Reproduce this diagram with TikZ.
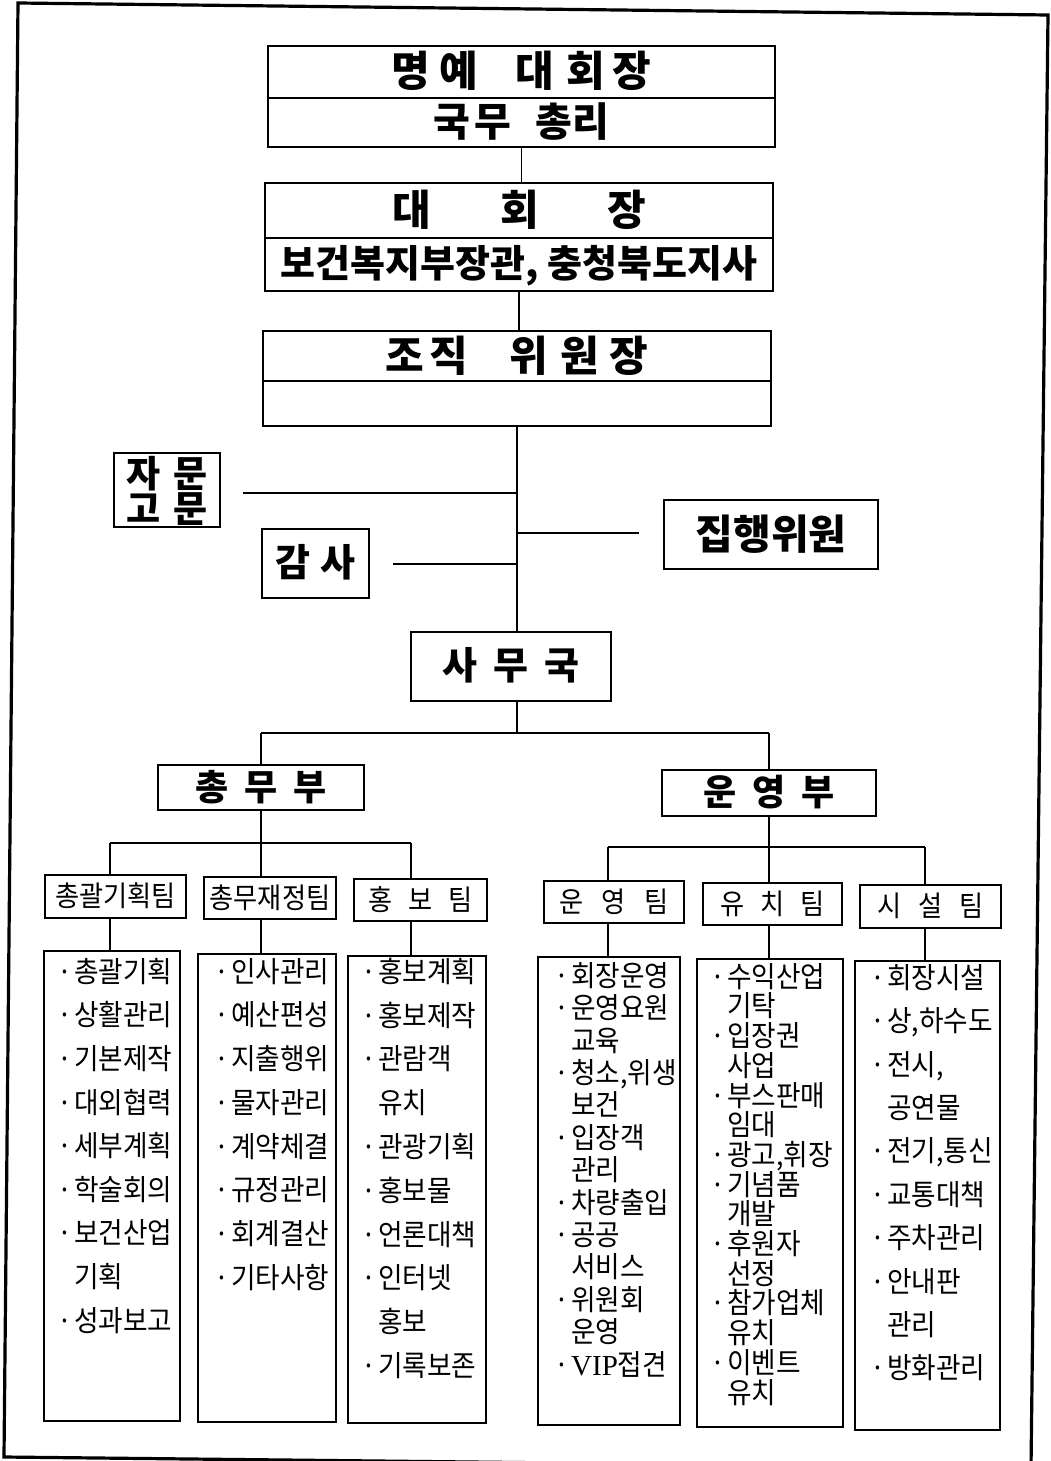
\documentclass[tikz,border=0pt]{standalone}
\usepackage{fontspec}
\setmainfont{Noto Sans CJK KR}
\newfontfamily\itemfont{Noto Sans CJK KR}[FakeStretch=0.92]
\newfontfamily\latinserif{Liberation Serif}
\newcommand\itemdot{\makebox[18pt][c]{·}}
\newcommand\itemind{\hspace*{18pt}}
\begin{document}
\begin{tikzpicture}[x=1pt,y=-1pt,
  box/.style={draw, line width=1.8pt, inner sep=0pt},
  span/.style n args={4}{minimum width={#3-#1}, minimum height={#4-#2}, at={({(#1+#3)/2},{(#2+#4)/2})}},
  conn/.style={line width=1.2pt},
  sz/.style 2 args={font=\fontsize{#1}{#1}\selectfont\bfseries, text height=#2pt, text depth=4pt},
  team/.style={font=\itemfont\fontsize{28.5}{30}\selectfont, text height=23pt, text depth=3pt},
  item/.style={anchor=west, inner sep=0pt, font=\itemfont\fontsize{29}{30}\selectfont, text height=24pt, text depth=3.5pt}]
\useasboundingbox (0,0) rectangle (1050,1461);
% outer frame
\draw[line width=3.2pt] (18,3) -- (1048,15) -- (1031,1468) -- (4,1457) -- cycle;

% top boxes
\node[box, sz={42}{34}, span={268}{46}{775}{98}] (A1) {명\hspace{9pt}예\hspace{38pt}대\hspace{12pt}회\hspace{8pt}장};
\node[box, sz={40}{32}, span={268}{98}{775}{147}] (A2) {국\hspace{4pt}무\hspace{24pt}총\hspace{1pt}리};
\node[box, sz={42}{34}, span={265}{183}{773}{238}] (B1) {대\hspace{70pt}회\hspace{68pt}장};
\node[box, sz={38}{30.5}, span={265}{238}{773}{291}] (B2) {보건복지부장관, 충청북도지사};
\node[box, sz={42}{34}, span={263}{331}{771}{381}] (C1) {조\hspace{5pt}직\hspace{41pt}위\hspace{13pt}원\hspace{10pt}장};
\node[box, span={263}{381}{771}{426}] (C2) {};

% side boxes
\node[box, span={114}{453}{220}{527}] (E) {};
\node[sz={37}{29.5}, inner sep=0pt] (E1) at (167,475) {자\hspace{13pt}문};
\node[sz={37}{29.5}, inner sep=0pt] (E2) at (167,510) {고\hspace{13pt}문};
\node[box, sz={38}{30.5}, span={262}{529}{369}{598}] (F) {감\hspace{11pt}사};
\node[box, sz={41}{33}, span={664}{500}{878}{569}] (G) {집행위원};
\node[box, sz={38}{30.5}, span={411}{632}{611}{701}] (D) {사\hspace{16pt}무\hspace{16pt}국};

% departments
\node[box, sz={36}{29}, span={158}{765}{364}{810}] (H1) {총\hspace{16pt}무\hspace{16pt}부};
\node[box, sz={36}{29}, span={662}{770}{876}{816}] (H2) {운\hspace{16pt}영\hspace{16pt}부};

% teams
\node[box, team, span={45}{875}{186}{918}] (T1) {총괄기획팀};
\node[box, team, span={204}{877}{336}{919}] (T2) {총무재정팀};
\node[box, team, span={354}{879}{487}{921}] (T3) {홍\hspace{16pt}보\hspace{16pt}팀};
\node[box, team, span={544}{881}{684}{923}] (T4) {운\hspace{18pt}영\hspace{18pt}팀};
\node[box, team, span={703}{883}{842}{925}] (T5) {유\hspace{16pt}치\hspace{16pt}팀};
\node[box, team, span={860}{885}{1001}{928}] (T6) {시\hspace{17pt}설\hspace{17pt}팀};

% lists
\node[box, span={44}{951}{180}{1421}] (L1) {};
\node[box, span={198}{954}{336}{1422}] (L2) {};
\node[box, span={348}{956}{486}{1423}] (L3) {};
\node[box, span={538}{957}{680}{1425}] (L4) {};
\node[box, span={697}{959}{843}{1427}] (L5) {};
\node[box, span={855}{961}{1000}{1430}] (L6) {};

% connectors top
\draw[conn] (A2.south) -- (A2.south |- B1.north);
\draw[conn] (B2.south) -- (B2.south |- C1.north);
\draw[conn] (C2.south) -- (C2.south |- D.north);
\coordinate (e) at (243,493);
\coordinate (f) at (393,564);
\coordinate (g) at (639,533);
\draw[conn] (e) -- (e -| C2.south);
\draw[conn] (f) -- (f -| C2.south);
\draw[conn] (g -| C2.south) -- (g);

% to departments
\coordinate (j1) at (517,733);
\draw[conn] (D.south -| j1) -- (j1);
\draw[conn] (H1.north |- j1) -- (H2.north |- j1);
\draw[conn] (H1.north |- j1) -- (H1.north);
\draw[conn] (H2.north |- j1) -- (H2.north);

% to teams
\coordinate (v1) at (110,843);
\coordinate (v2) at (261,843);
\coordinate (v3) at (411,843);
\coordinate (v4) at (608,847);
\coordinate (v5) at (769,847);
\coordinate (v6) at (925,847);
\draw[conn] (H1.south) -- (v2);
\draw[conn] (H2.south) -- (v5);
\draw[conn] (v1) -- (v3);
\draw[conn] (v4) -- (v6);
\foreach \v/\t/\l in {v1/T1/L1, v2/T2/L2, v3/T3/L3, v4/T4/L4, v5/T5/L5, v6/T6/L6}{
  \draw[conn] (\v) -- (\v |- \t.north);
  \draw[conn] (\v |- \t.south) -- (\v |- \l.north);
}

% list items
\foreach \t [count=\i] in {{\itemdot 총괄기획},{\itemdot 상활관리},{\itemdot 기본제작},{\itemdot 대외협력},{\itemdot 세부계획},{\itemdot 학술회의},{\itemdot 보건산업},{\itemind 기획},{\itemdot 성과보고}}
  \node[item] (L1-\i) at (56,{972+43.6*(\i-1)}) {\t};
\foreach \t [count=\i] in {{\itemdot 인사관리},{\itemdot 예산편성},{\itemdot 지출행위},{\itemdot 물자관리},{\itemdot 계약체결},{\itemdot 규정관리},{\itemdot 회계결산},{\itemdot 기타사항}}
  \node[item] (L2-\i) at (213,{972+43.7*(\i-1)}) {\t};
\foreach \t [count=\i] in {{\itemdot 홍보계획},{\itemdot 홍보제작},{\itemdot 관람객},{\itemind 유치},{\itemdot 관광기획},{\itemdot 홍보물},{\itemdot 언론대책},{\itemdot 인터넷},{\itemind 홍보},{\itemdot 기록보존}}
  \node[item] (L3-\i) at (360,{972+43.8*(\i-1)}) {\t};
\foreach \t [count=\i] in {{\itemdot 회장운영},{\itemdot 운영요원},{\itemind 교육},{\itemdot 청소,위생},{\itemind 보건},{\itemdot 입장객},{\itemind 관리},{\itemdot 차량출입},{\itemdot 공공},{\itemind 서비스},{\itemdot 위원회},{\itemind 운영},{\itemdot {\latinserif VIP}접견}}
  \node[item] (L4-\i) at (553,{976+32.4*(\i-1)}) {\t};
\foreach \t [count=\i] in {{\itemdot 수익산업},{\itemind 기탁},{\itemdot 입장권},{\itemind 사업},{\itemdot 부스판매},{\itemind 임대},{\itemdot 광고,휘장},{\itemdot 기념품},{\itemind 개발},{\itemdot 후원자},{\itemind 선정},{\itemdot 참가업체},{\itemind 유치},{\itemdot 이벤트},{\itemind 유치}}
  \node[item] (L5-\i) at (709,{977+29.7*(\i-1)}) {\t};
\foreach \t [count=\i] in {{\itemdot 회장시설},{\itemdot 상,하수도},{\itemdot 전시,},{\itemind 공연물},{\itemdot 전기,통신},{\itemdot 교통대책},{\itemdot 주차관리},{\itemdot 안내판},{\itemind 관리},{\itemdot 방화관리}}
  \node[item] (L6-\i) at (869,{978+43.4*(\i-1)}) {\t};
\end{tikzpicture}
\end{document}
